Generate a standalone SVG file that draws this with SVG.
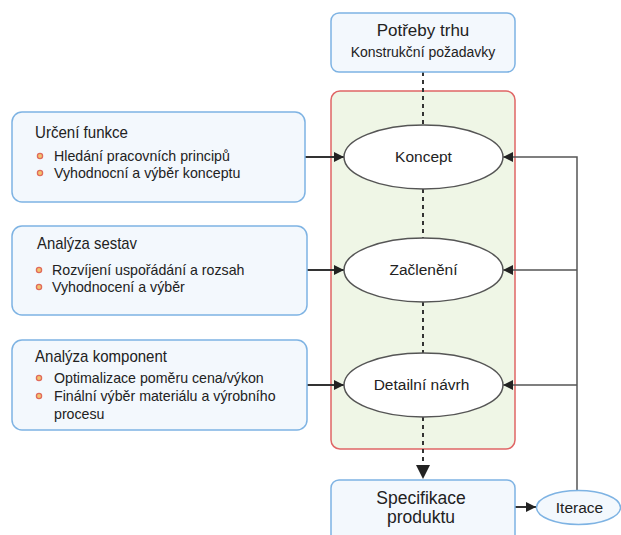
<svg xmlns="http://www.w3.org/2000/svg" width="621" height="535" viewBox="0 0 621 535">
  <style>
    text { font-family: "Liberation Sans", Arial, sans-serif; fill: #222; }
    .box { fill: #f3f8fd; stroke: #7eb3e3; stroke-width: 1.5; }
    .stage { fill: #fff; stroke: #555; stroke-width: 1.5; }
    .title { font-size: 17px; }
    .item { font-size: 14.2px; }
    .bullet { fill: #f2c46e; stroke: #e06a5c; stroke-width: 1.3; }
    .dash { stroke: #333; stroke-width: 2; stroke-dasharray: 4 4; fill: none; }
    .feed { stroke: #555; stroke-width: 1.5; fill: none; }
    .input { stroke: #333; stroke-width: 2; fill: none; }
  </style>
  <defs>
    <marker id="arrow" viewBox="0 0 10 10" refX="10" refY="5" markerWidth="10" markerHeight="10" markerUnits="userSpaceOnUse" orient="auto">
      <path d="M0,0 L10,5 L0,10 Z" fill="#222"/>
    </marker>
    <marker id="bigArrow" viewBox="0 0 14 14" refX="14" refY="7" markerWidth="14" markerHeight="14" markerUnits="userSpaceOnUse" orient="auto">
      <path d="M0,0 L14,7 L0,14 Z" fill="#222"/>
    </marker>
  </defs>

  <!-- design process container -->
  <g id="process">
    <rect x="331" y="91" width="184" height="358" rx="9" fill="#eff6e6" stroke="#e06666" stroke-width="1.5"/>
  </g>

  <g id="connectors">
    <!-- dashed flow through the stages -->
    <line class="dash" x1="423" y1="72" x2="423" y2="125"/>
    <line class="dash" x1="423" y1="189" x2="423" y2="238"/>
    <line class="dash" x1="423" y1="302" x2="423" y2="353"/>
    <line class="dash" x1="423" y1="417" x2="423" y2="479" marker-end="url(#bigArrow)"/>
    <!-- inputs from the analysis boxes -->
    <line class="input" x1="305" y1="157" x2="344" y2="157" marker-end="url(#arrow)"/>
    <line class="input" x1="307" y1="270" x2="344" y2="270" marker-end="url(#arrow)"/>
    <line class="input" x1="307" y1="385" x2="344" y2="385" marker-end="url(#arrow)"/>
    <!-- output to iteration -->
    <line class="input" x1="515" y1="507" x2="536" y2="507" marker-end="url(#arrow)"/>
    <!-- iteration feedback -->
    <polyline class="feed" points="577,491 577,157 503,157" marker-end="url(#arrow)"/>
    <line class="feed" x1="577" y1="270" x2="503" y2="270" marker-end="url(#arrow)"/>
    <line class="feed" x1="577" y1="385" x2="503" y2="385" marker-end="url(#arrow)"/>
  </g>

  <g id="market">
    <rect class="box" x="331" y="13" width="184" height="59" rx="8"/>
    <text x="423" y="36" text-anchor="middle" font-size="17">Potřeby trhu</text>
    <text x="423" y="57" text-anchor="middle" font-size="14">Konstrukční požadavky</text>
  </g>

  <g id="koncept">
    <ellipse class="stage" cx="423.5" cy="157" rx="79.5" ry="32"/>
    <text x="423.5" y="162" text-anchor="middle" font-size="15.5">Koncept</text>
  </g>
  <g id="zacleneni">
    <ellipse class="stage" cx="423.5" cy="270" rx="79.5" ry="32"/>
    <text x="423.5" y="275" text-anchor="middle" font-size="15.5">Začlenění</text>
  </g>
  <g id="detail">
    <ellipse class="stage" cx="423.5" cy="385" rx="79.5" ry="32"/>
    <text x="421.5" y="390" text-anchor="middle" font-size="15.5">Detailní návrh</text>
  </g>

  <g id="specifikace">
    <rect class="box" x="331" y="480" width="184" height="70" rx="8"/>
    <text x="421" y="504" text-anchor="middle" font-size="17.5">Specifikace</text>
    <text x="421" y="523" text-anchor="middle" font-size="17.5">produktu</text>
  </g>

  <g id="iterace">
    <ellipse cx="578.5" cy="507.5" rx="42" ry="17" fill="#f3f8fd" stroke="#7eb3e3" stroke-width="1.5"/>
    <text x="579.5" y="513" text-anchor="middle" font-size="15.5">Iterace</text>
  </g>

  <g id="funkce">
    <rect class="box" x="12" y="112" width="293" height="90" rx="10"/>
    <text class="title" x="35" y="138" textLength="93" lengthAdjust="spacingAndGlyphs">Určení funkce</text>
    <circle class="bullet" cx="40" cy="156" r="2.6"/>
    <text class="item" x="54" y="160.5">Hledání pracovních principů</text>
    <circle class="bullet" cx="40" cy="173" r="2.6"/>
    <text class="item" x="54" y="177.5">Vyhodnocní a výběr konceptu</text>
  </g>

  <g id="sestavy">
    <rect class="box" x="12" y="226" width="295" height="89" rx="10"/>
    <text class="title" x="37" y="249" textLength="100" lengthAdjust="spacingAndGlyphs">Analýza sestav</text>
    <circle class="bullet" cx="39" cy="270" r="2.6"/>
    <text class="item" x="52" y="274.5">Rozvíjení uspořádání a rozsah</text>
    <circle class="bullet" cx="39" cy="287" r="2.6"/>
    <text class="item" x="52" y="291.5">Vyhodnocení a výběr</text>
  </g>

  <g id="komponenty">
    <rect class="box" x="12" y="340" width="295" height="90" rx="10"/>
    <text class="title" x="35" y="362" textLength="132" lengthAdjust="spacingAndGlyphs">Analýza komponent</text>
    <circle class="bullet" cx="39" cy="378" r="2.6"/>
    <text class="item" x="54" y="382.5">Optimalizace poměru cena/výkon</text>
    <circle class="bullet" cx="39" cy="396" r="2.6"/>
    <text class="item" x="54" y="400.5">Finální výběr materiálu a výrobního</text>
    <text class="item" x="54" y="418.5">procesu</text>
  </g>
</svg>
